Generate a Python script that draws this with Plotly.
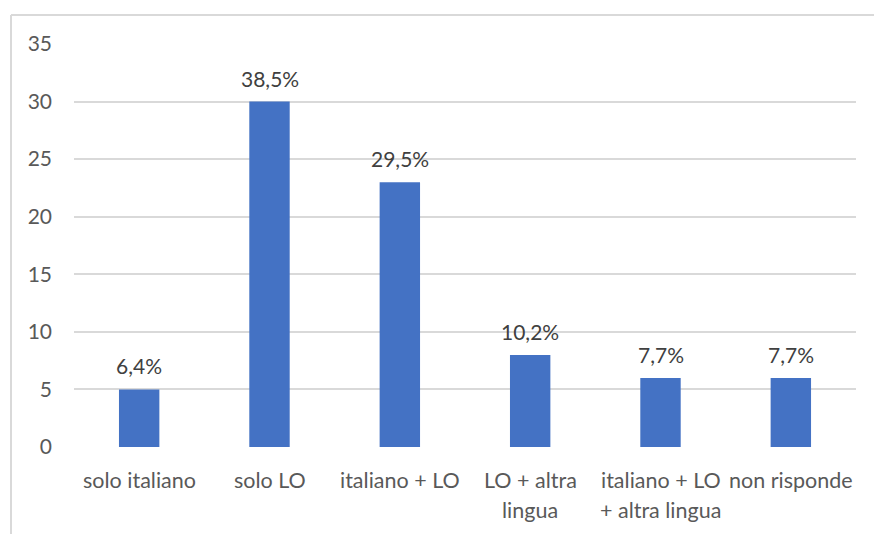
import plotly.graph_objects as go

categories = ["solo italiano", "solo LO", "italiano + LO", "LO + altra\nlingua",
              "italiano + LO\n+ altra lingua", "non risponde"]
values = [5, 30, 23, 8, 6, 6]
pct_labels = ["6,4%", "38,5%", "29,5%", "10,2%", "7,7%", "7,7%"]
y_ticks = [0, 5, 10, 15, 20, 25, 30, 35]

FONT = "Lato, Carlito, Calibri, sans-serif"
xs = list(range(len(categories)))

fig = go.Figure()
fig.add_trace(go.Bar(x=xs, y=values, marker=dict(color="#4472C4", line=dict(width=0)),
                     width=0.31, hoverinfo="skip"))

annotations = []
for x, v, t in zip(xs, values, pct_labels):
    annotations.append(dict(x=x, y=v, xref="x", yref="y", text=t, showarrow=False,
                            yanchor="bottom", yshift=9,
                            font=dict(family=FONT, size=21, color="#404040")))
for x, cat in zip(xs, categories):
    for i, line in enumerate(cat.split("\n")):
        annotations.append(dict(x=x, y=0, xref="x", yref="y", text=line, showarrow=False,
                                yanchor="middle", yshift=-33 - 30 * i,
                                font=dict(family=FONT, size=21.5, color="#595959")))

W, H = 874, 534
ml, mr, mt, mb = 74, 18, 44, 87
pw, ph = W - ml - mr, H - mt - mb
def px_x(p):
    return (p - ml) / pw
def px_y(p):
    return 1 - (p - mt) / ph

fig.update_layout(
    width=W, height=H,
    margin=dict(l=ml, r=mr, t=mt, b=mb),
    paper_bgcolor="white", plot_bgcolor="white",
    showlegend=False,
    font=dict(family=FONT, size=21, color="#595959"),
    xaxis=dict(range=[-0.5, len(categories) - 0.5], showticklabels=False,
               showgrid=False, zeroline=False, showline=False, ticks=""),
    yaxis=dict(range=[0, 35], tickvals=y_ticks, showgrid=True, gridcolor="#d9d9d9",
               gridwidth=1.5, zeroline=False, showline=False, ticks="",
               ticklabelstandoff=21,
               tickfont=dict(family=FONT, size=21, color="#595959")),
    annotations=annotations,
    shapes=[
        dict(type="line", xref="paper", yref="paper", x0=px_x(11), x1=px_x(W + 5),
             y0=px_y(15), y1=px_y(15), line=dict(color="#d9d9d9", width=2)),
        dict(type="line", xref="paper", yref="paper", x0=px_x(11), x1=px_x(11),
             y0=px_y(15), y1=px_y(H + 5), line=dict(color="#d9d9d9", width=2)),
    ],
)

fig.write_html("out.html")
